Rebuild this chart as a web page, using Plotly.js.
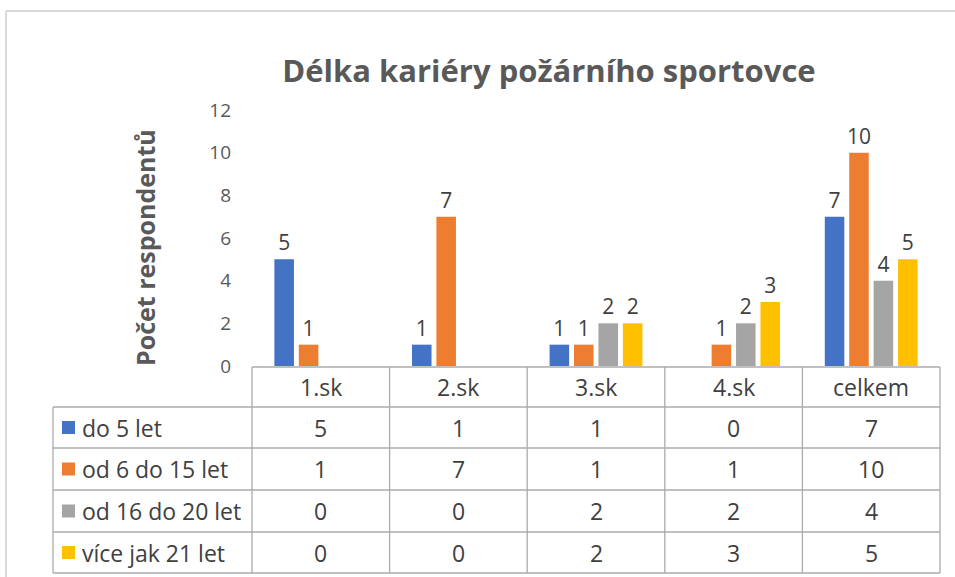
<!DOCTYPE html>
<html>
<head>
<meta charset="utf-8">
<script src="https://cdn.plot.ly/plotly-3.0.1.min.js"></script>
<style>
html,body{margin:0;padding:0;background:#fff;}
#chart{width:955px;height:577px;}
</style>
</head>
<body>
<div id="chart"></div>
<script>
// ---- data ----
const categories = ['1.sk', '2.sk', '3.sk', '4.sk', 'celkem'];
const seriesNames = ['do 5 let', 'od 6 do 15 let', 'od 16 do 20 let', 'více jak 21 let'];
const do5let = [5, 1, 1, 0, 7];
const od6do15 = [1, 7, 1, 1, 10];
const od16do20 = [0, 0, 2, 2, 4];
const vice21 = [0, 0, 2, 3, 5];
const yTicks = [0, 2, 4, 6, 8, 10, 12];
const chartTitle = 'Délka kariéry požárního sportovce';
const yTitle = 'Počet respondentů';

const seriesValues = [do5let, od6do15, od16do20, vice21];
const colors = ['#4472C4', '#ED7D31', '#A5A5A5', '#FFC000'];

// ---- layout geometry (pixels) ----
const W = 955, H = 577;
const plotL = 252, plotR = 940, plotT = 110, plotB = 366;
const pw = plotR - plotL, ph = plotB - plotT;
const px = v => (v - plotL) / pw;     // pixel x -> paper x
const py = v => (plotB - v) / ph;     // pixel y -> paper y

const rowLines = [407, 448, 490, 532, 573];  // pixel y of row boundaries
const tableLeft = 53;
const font = 'Open Sans, Liberation Sans, sans-serif';
const textColor = '#404040';
const tableSize = 23;

const traces = seriesValues.map((vals, i) => ({
  type: 'bar',
  name: seriesNames[i],
  x: categories,
  y: vals,
  marker: {color: colors[i]},
  text: vals.map(v => v === 0 ? '' : String(v)),
  textposition: 'outside',
  constraintext: 'none',
  textfont: {family: font, size: 21, color: textColor},
  cliponaxis: false,
  hoverinfo: 'x+y+name'
}));

const shapes = [];
const lineStyle = {color: '#ABABAB', width: 1.3};
// outer chart frame (top and left)
shapes.push({type: 'line', xref: 'paper', yref: 'paper', x0: px(6), x1: px(W + 5), y0: py(11), y1: py(11), line: {color: '#D9D9D9', width: 2}});
shapes.push({type: 'line', xref: 'paper', yref: 'paper', x0: px(6), x1: px(6), y0: py(11), y1: py(H + 5), line: {color: '#D9D9D9', width: 2}});
// header top line (axis line)
shapes.push({type: 'line', xref: 'paper', yref: 'paper', x0: 0, x1: 1, y0: py(367), y1: py(367), line: lineStyle});
// row lines
rowLines.forEach(r => shapes.push({type: 'line', xref: 'paper', yref: 'paper', x0: px(tableLeft), x1: 1, y0: py(r), y1: py(r), line: lineStyle}));
// vertical lines
shapes.push({type: 'line', xref: 'paper', yref: 'paper', x0: px(tableLeft), x1: px(tableLeft), y0: py(rowLines[0]), y1: py(rowLines[rowLines.length - 1]), line: lineStyle});
shapes.push({type: 'line', xref: 'paper', yref: 'paper', x0: 0, x1: 0, y0: py(367), y1: py(rowLines[rowLines.length - 1]), line: lineStyle});
shapes.push({type: 'line', xref: 'paper', yref: 'paper', x0: 1, x1: 1, y0: py(367), y1: py(rowLines[rowLines.length - 1]), line: lineStyle});
for (let c = 0; c < categories.length - 1; c++) {
  shapes.push({type: 'line', xref: 'x', yref: 'paper', x0: c + 0.5, x1: c + 0.5, y0: py(367), y1: py(rowLines[rowLines.length - 1]), line: lineStyle});
}
// legend keys
seriesNames.forEach((n, i) => {
  const mid = (rowLines[i] + rowLines[i + 1]) / 2;
  shapes.push({type: 'rect', xref: 'paper', yref: 'paper', x0: px(62), x1: px(75), y0: py(mid - 6.5), y1: py(mid + 6.5), fillcolor: colors[i], line: {width: 0}});
});

const annotations = [];
// header labels
categories.forEach((c, j) => {
  annotations.push({xref: 'x', yref: 'paper', x: c, y: py((367 + rowLines[0]) / 2), text: c, showarrow: false, xanchor: 'center', yanchor: 'middle', font: {family: font, size: tableSize, color: textColor}});
});
// series names and values
seriesNames.forEach((n, i) => {
  const mid = (rowLines[i] + rowLines[i + 1]) / 2;
  annotations.push({xref: 'paper', yref: 'paper', x: px(80), y: py(mid), text: n, showarrow: false, xanchor: 'left', yanchor: 'middle', font: {family: font, size: tableSize, color: textColor}});
  seriesValues[i].forEach((v, j) => {
    annotations.push({xref: 'x', yref: 'paper', x: categories[j], y: py(mid), text: String(v), showarrow: false, xanchor: 'center', yanchor: 'middle', font: {family: font, size: tableSize, color: textColor}});
  });
});
// y-axis title
annotations.push({xref: 'paper', yref: 'paper', x: px(145), y: py(248), text: '<b>' + yTitle + '</b>', textangle: -90, showarrow: false, xanchor: 'center', yanchor: 'middle', font: {family: font, size: 25, color: '#595959'}});

const layout = {
  width: W, height: H,
  margin: {l: plotL, r: W - plotR, t: plotT, b: H - plotB, pad: 0},
  paper_bgcolor: '#ffffff',
  plot_bgcolor: '#ffffff',
  title: {text: '<b>' + chartTitle + '</b>', x: 549 / W, xref: 'container', xanchor: 'center', y: 1 - 71 / H, yref: 'container', yanchor: 'middle', font: {family: font, size: 31, color: '#595959'}},
  showlegend: false,
  barmode: 'group',
  bargap: 0.29,
  bargroupgap: 0.2,
  xaxis: {type: 'category', range: [-0.5, categories.length - 0.5], showticklabels: false, showgrid: false, zeroline: false, showline: false, ticks: '', fixedrange: true},
  yaxis: {range: [0, 12], tickvals: yTicks, ticktext: yTicks.map(String), showgrid: false, zeroline: false, showline: false, ticks: '', ticklabelstandoff: 20, tickfont: {family: font, size: 19, color: '#595959'}, fixedrange: true},
  shapes: shapes,
  annotations: annotations
};

Plotly.newPlot('chart', traces, layout, {displayModeBar: false, staticPlot: true});
</script>
</body>
</html>
